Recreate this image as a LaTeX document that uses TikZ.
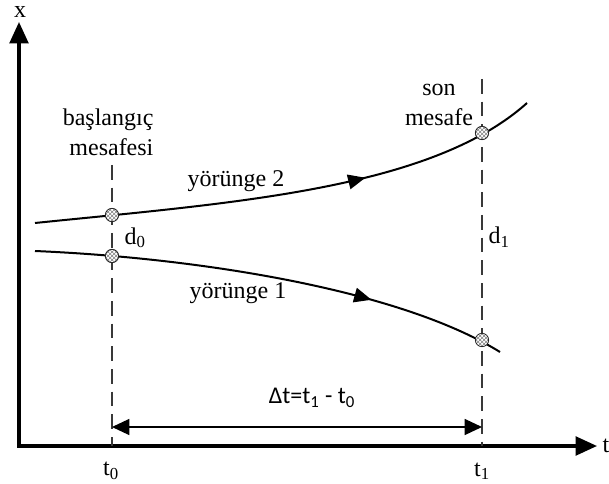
\documentclass[tikz,border=0pt]{standalone}
\usepackage{fontspec}
\setmainfont{Liberation Serif}
\newfontfamily\calfont{Carlito}
\usetikzlibrary{arrows.meta,patterns,decorations.markings}
\begin{document}
\begin{tikzpicture}[x=0.75pt,y=-0.75pt,font=\fontsize{18}{22.5}\selectfont,
  axis/.style={line width=2.4pt,{Triangle[length=16pt,width=14pt]}-{Triangle[length=16pt,width=14pt]}},
  guide/.style={gray!45!black,line width=0.9pt,dash pattern=on 11pt off 6pt},
  traj/.style={line width=1.5pt,postaction={decorate},
    decoration={markings,mark=at position #1 with {\arrow{Triangle[length=13pt,width=11pt]}}}},
  mk/.style={circle,draw=gray!30!black,line width=0.6pt,inner sep=0pt,minimum size=10pt,
    preaction={fill=white},pattern=crosshatch,pattern color=gray},
  dim/.style={line width=1pt,{Triangle[length=13pt,width=12pt]}-{Triangle[length=13pt,width=12pt]}},
  lbl/.style={inner sep=1pt}]
  \useasboundingbox (0,0) rectangle (609,484);
  % axes
  \coordinate (O) at (19,446);
  \coordinate (xe) at (19,22);
  \coordinate (te) at (597,446);
  \draw[axis] (xe) -- (O) -- (te);
  \node[lbl] (xl) at (20,12){x};
  \node[lbl] (tl) at (606,446){t};
  % time guides
  \coordinate (g0a) at (112,165);
  \coordinate (g0b) at (112,446);
  \coordinate (g1a) at (482,79);
  \coordinate (g1b) at (482,446);
  \draw[guide] (g0a) -- (g0b);
  \draw[guide] (g1a) -- (g1b);
  \node[lbl] (t0) at (111,471){t\textsubscript{0}};
  \node[lbl] (t1) at (482,471){t\textsubscript{1}};
  % trajectories
  \coordinate (a0) at (112,215);
  \coordinate (a1) at (482,133);
  \coordinate (b0) at (112,256);
  \coordinate (b1) at (482,340);
  \draw[traj=0.65] (35,223) .. controls (230,203) and (430,190) .. (527,103);
  \draw[traj=0.71] (35,251) .. controls (200,258) and (400,290) .. (500,352);
  \node[mk] (ma0) at (a0){};
  \node[mk] (ma1) at (a1){};
  \node[mk] (mb0) at (b0){};
  \node[mk] (mb1) at (b1){};
  % labels
  \node[lbl,align=right,anchor=east] (bas) at (155,132){başlangıç\\mesafesi};
  \node[lbl,align=center] (son) at (439,105){son\\mesafe};
  \node[lbl] (y2) at (236,181){yörünge 2};
  \node[lbl] (y1) at (238,293){yörünge 1};
  \node[lbl,anchor=west] (d0) at (123,238){d\textsubscript{0}};
  \node[lbl,anchor=west] (d1) at (487,237){d\textsubscript{1}};
  % time span
  \coordinate (s0) at (112,427);
  \coordinate (s1) at (482,427);
  \draw[dim] (s0) -- (s1);
  \node[lbl,font=\calfont\fontsize{18}{20}\selectfont] (dt) at (312,398){Δt=t\textsubscript{1} - t\textsubscript{0}};
\end{tikzpicture}
\end{document}
